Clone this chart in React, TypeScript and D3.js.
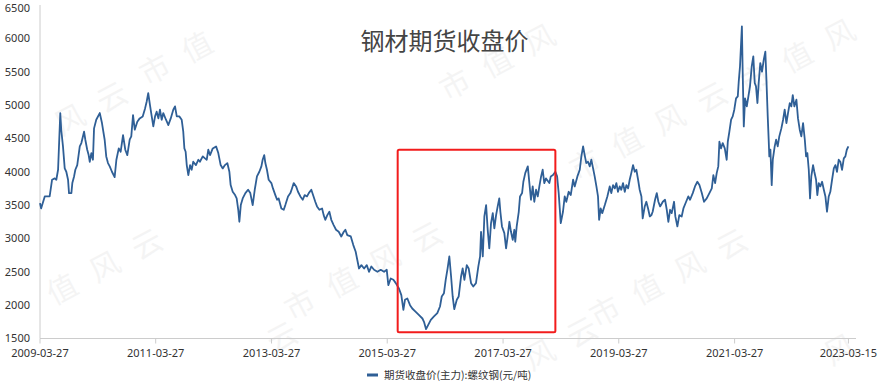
import React from "react";
import * as d3 from "d3";

const title = "钢材期货收盘价";
const seriesName = "期货收盘价(主力):螺纹钢(元/吨)";
const watermarkText = "市值风云";

const xDomain = ["2009-03-27", "2023-05-02"];
const xTickLabels = ["2009-03-27", "2011-03-27", "2013-03-27", "2015-03-27", "2017-03-27", "2019-03-27", "2021-03-27", "2023-03-15"];
const yTicks = [1500, 2000, 2500, 3000, 3500, 4000, 4500, 5000, 5500, 6000, 6500];

const highlightDates = ["2015-06-01", "2018-02-20"];
const highlightValues = [1595, 4330];

const dates = [
  "2009-03-27","2009-04-03","2009-04-26","2009-05-27","2009-06-11","2009-06-28","2009-07-08","2009-07-19","2009-08-02","2009-08-08",
  "2009-08-19","2009-08-30","2009-09-09","2009-09-20","2009-09-26","2009-10-11","2009-10-17","2009-10-28","2009-11-05","2009-11-17",
  "2009-12-03","2009-12-13","2009-12-30","2010-01-07","2010-01-19","2010-01-28","2010-02-04","2010-02-14","2010-02-24","2010-03-03",
  "2010-03-17","2010-04-08","2010-04-22","2010-05-09","2010-05-19","2010-05-30","2010-06-10","2010-06-24","2010-07-11","2010-07-22",
  "2010-08-06","2010-08-18","2010-09-02","2010-09-16","2010-09-29","2010-10-14","2010-10-24","2010-11-04","2010-11-15","2010-12-01",
  "2010-12-16","2011-01-04","2011-01-19","2011-01-29","2011-02-08","2011-02-19","2011-03-02","2011-03-12","2011-03-23","2011-04-02",
  "2011-04-13","2011-04-23","2011-05-04","2011-05-14","2011-05-31","2011-06-15","2011-06-30","2011-07-16","2011-07-27","2011-08-07",
  "2011-08-23","2011-09-07","2011-09-17","2011-09-24","2011-10-02","2011-10-09","2011-10-19","2011-10-30","2011-11-09","2011-11-19",
  "2011-12-06","2011-12-21","2011-12-31","2012-01-18","2012-02-01","2012-02-12","2012-02-22","2012-03-04","2012-03-21","2012-04-11",
  "2012-04-25","2012-05-10","2012-05-23","2012-06-06","2012-06-21","2012-07-04","2012-07-12","2012-07-25","2012-08-09","2012-08-19",
  "2012-08-29","2012-09-05","2012-09-14","2012-09-26","2012-10-13","2012-10-30","2012-11-13","2012-11-28","2012-12-11","2012-12-25",
  "2013-01-09","2013-01-22","2013-01-30","2013-02-09","2013-02-16","2013-02-26","2013-03-09","2013-03-26","2013-04-05","2013-04-20",
  "2013-05-01","2013-05-11","2013-05-28","2013-06-12","2013-06-22","2013-07-09","2013-07-24","2013-08-03","2013-08-14","2013-08-29",
  "2013-09-10","2013-09-25","2013-10-10","2013-10-22","2013-11-06","2013-11-17","2013-12-03","2013-12-14","2013-12-28","2014-01-08",
  "2014-01-23","2014-02-09","2014-02-19","2014-03-01","2014-03-14","2014-03-27","2014-04-08","2014-04-23","2014-05-08","2014-05-25",
  "2014-06-10","2014-06-26","2014-07-06","2014-07-18","2014-08-09","2014-08-25","2014-09-09","2014-09-19","2014-09-30","2014-10-15",
  "2014-11-01","2014-11-18","2014-12-02","2014-12-17","2015-01-03","2015-01-24","2015-02-14","2015-03-07","2015-03-24","2015-04-03",
  "2015-04-18","2015-05-05","2015-05-20","2015-06-09","2015-06-24","2015-07-07","2015-07-17","2015-08-01","2015-08-18","2015-09-01",
  "2015-09-23","2015-10-14","2015-11-04","2015-11-14","2015-11-27","2015-12-10","2015-12-27","2016-01-16","2016-02-06","2016-02-23",
  "2016-03-05","2016-03-19","2016-03-30","2016-04-11","2016-04-22","2016-05-03","2016-05-13","2016-05-23","2016-06-08","2016-06-20",
  "2016-07-05","2016-07-15","2016-07-26","2016-08-10","2016-08-22","2016-09-06","2016-09-20","2016-10-07","2016-10-22","2016-11-02",
  "2016-11-08","2016-11-19","2016-11-29","2016-12-10","2016-12-20","2016-12-30","2017-01-10","2017-01-21","2017-01-31","2017-02-11",
  "2017-02-21","2017-03-03","2017-03-10","2017-03-20","2017-04-04","2017-04-15","2017-04-25","2017-05-06","2017-05-16","2017-05-27",
  "2017-06-06","2017-06-12","2017-06-21","2017-07-04","2017-07-12","2017-07-25","2017-08-02","2017-08-14","2017-08-30","2017-09-09",
  "2017-09-19","2017-09-30","2017-10-10","2017-10-21","2017-11-01","2017-11-11","2017-11-22","2017-12-02","2017-12-12","2017-12-23",
  "2018-01-13","2018-01-22","2018-02-05","2018-02-20","2018-03-03","2018-03-13","2018-03-26","2018-04-09","2018-04-20","2018-04-30",
  "2018-05-15","2018-05-28","2018-06-12","2018-06-22","2018-07-09","2018-07-24","2018-08-03","2018-08-14","2018-08-24","2018-09-03",
  "2018-09-14","2018-09-25","2018-10-05","2018-10-16","2018-10-26","2018-11-06","2018-11-16","2018-11-23","2018-12-03","2018-12-13",
  "2018-12-29","2019-01-14","2019-01-29","2019-02-08","2019-02-19","2019-03-02","2019-03-12","2019-03-22","2019-04-02","2019-04-12",
  "2019-04-23","2019-05-04","2019-05-14","2019-05-25","2019-06-04","2019-06-14","2019-06-25","2019-07-06","2019-07-16","2019-07-27",
  "2019-08-06","2019-08-17","2019-08-25","2019-09-07","2019-09-17","2019-09-28","2019-10-09","2019-10-19","2019-10-27","2019-11-11",
  "2019-11-22","2019-12-02","2019-12-13","2019-12-30","2020-01-13","2020-01-24","2020-02-03","2020-02-14","2020-02-24","2020-03-10",
  "2020-03-18","2020-03-31","2020-04-12","2020-04-27","2020-05-08","2020-05-25","2020-06-08","2020-06-19","2020-07-06","2020-07-20",
  "2020-08-04","2020-08-17","2020-09-01","2020-09-15","2020-10-02","2020-10-19","2020-11-03","2020-11-13","2020-11-24","2020-12-04",
  "2020-12-14","2020-12-21","2020-12-31","2021-01-11","2021-01-24","2021-02-05","2021-02-12","2021-02-22","2021-03-05","2021-03-15",
  "2021-03-25","2021-04-05","2021-04-16","2021-04-22","2021-04-30","2021-05-12","2021-05-17","2021-05-24","2021-06-01","2021-06-12",
  "2021-06-22","2021-07-02","2021-07-13","2021-07-23","2021-08-01","2021-08-09","2021-08-18","2021-08-26","2021-09-05","2021-09-16",
  "2021-09-27","2021-10-07","2021-10-13","2021-10-22","2021-10-28","2021-11-01","2021-11-08","2021-11-16","2021-11-23","2021-12-05",
  "2021-12-14","2021-12-24","2022-01-03","2022-01-16","2022-01-27","2022-02-06","2022-02-17","2022-02-27","2022-03-10","2022-03-20",
  "2022-03-29","2022-04-08","2022-04-21","2022-05-01","2022-05-12","2022-05-22","2022-06-02","2022-06-13","2022-06-21","2022-06-29",
  "2022-07-08","2022-07-16","2022-07-24","2022-08-04","2022-08-12","2022-08-23","2022-08-31","2022-09-09","2022-09-19","2022-09-30",
  "2022-10-11","2022-10-21","2022-10-31","2022-11-11","2022-11-21","2022-12-02","2022-12-13","2022-12-23","2023-01-02","2023-01-13",
  "2023-01-23","2023-02-03","2023-02-14","2023-02-24","2023-03-05","2023-03-15"
];

const prices = [
  3530,3450,3630,3630,3880,3900,3880,4030,4880,4630,
  4380,4050,4000,3880,3680,3680,3830,3930,4030,4100,
  4380,4430,4600,4480,4330,4250,4150,4280,4180,4650,
  4780,4880,4730,4480,4230,4130,4080,4000,3920,4180,
  4350,4300,4550,4330,4250,4480,4530,4850,4630,4750,
  4800,4830,4950,5050,5180,5000,4830,4680,4830,4900,
  4800,4930,4780,4880,4780,4700,4800,4930,4980,4830,
  4830,4780,4600,4350,4300,4100,3950,4100,4030,4150,
  4100,4180,4150,4230,4200,4180,4330,4250,4350,4380,
  4280,4100,4050,4100,4130,4000,3800,3700,3650,3600,
  3430,3250,3500,3600,3680,3730,3680,3500,3730,3930,
  4000,4080,4180,4250,4130,4030,3880,3830,3750,3650,
  3580,3600,3450,3430,3500,3630,3680,3750,3830,3780,
  3700,3630,3580,3650,3630,3680,3730,3650,3550,3480,
  3430,3450,3350,3280,3350,3400,3280,3200,3130,3100,
  3030,3100,3130,3050,3030,2900,2800,2680,2550,2600,
  2550,2600,2500,2580,2530,2500,2530,2500,2530,2300,
  2400,2380,2330,2250,2150,1930,2080,2100,2000,1950,
  1900,1850,1800,1750,1640,1700,1780,1830,1880,1980,
  2130,2180,2380,2550,2730,2430,2130,1940,2080,2130,
  2430,2550,2380,2600,2550,2330,2280,2330,2580,2730,
  3100,2730,3330,3500,3130,2850,3230,3380,3150,3350,
  3480,3600,3400,3180,3080,2850,3030,3250,3100,2980,
  3130,2950,3180,3400,3630,3680,3850,3980,4080,3830,
  3580,3780,3550,3730,3630,3780,3930,4030,3830,3900,
  3830,3930,3950,4000,3930,3680,3230,3400,3630,3550,
  3700,3650,3880,3780,3930,4030,4230,4380,4250,4130,
  4150,4080,4180,4050,3930,3780,3630,3280,3450,3380,
  3500,3630,3780,3680,3800,3750,3830,3700,3780,3730,
  3830,3700,3800,3750,3880,3980,4100,4000,4030,3880,
  3730,3630,3300,3480,3550,3450,3330,3350,3400,3580,
  3680,3550,3480,3550,3580,3430,3250,3430,3380,3550,
  3330,3180,3350,3330,3450,3550,3630,3580,3680,3780,
  3850,3800,3680,3550,3600,3680,3750,3950,3830,3980,
  4080,4450,4350,4430,4350,4180,4450,4600,4780,4830,
  4930,5100,5130,5350,5580,6180,5500,4680,5100,4980,
  5130,5280,5580,5730,5330,5280,5030,5330,5630,5500,
  5680,5800,5430,4830,4480,4230,4330,3800,4180,4380,
  4480,4380,4530,4650,4780,4930,4730,4880,5030,4980,
  5150,4980,5080,4800,4630,4530,4730,4480,4230,4280,
  4030,3600,3930,4100,4000,3880,3650,3830,3780,3850,
  3730,3630,3400,3630,3700,3880,4050,4100,4000,4180,
  4150,4030,4200,4230,4330,4380
];

const watermarkSpots = [
  [140, 80], [440, 95], [740, 90],
  [-30, 175], [570, 175], [850, 185],
  [5, 322], [285, 315], [590, 322],
  [140, 415], [440, 410], [740, 405],
];

export default function App() {
  const W = 885;
  const H = 384;
  const parse = d3.utcParse("%Y-%m-%d");
  const x = d3.scaleUtc().domain(xDomain.map((d) => parse(d) as Date)).range([40, 856]);
  const y = d3.scaleLinear().domain([1500, 6500]).range([338.5, 5]);
  const pts = dates.map((d, i) => [x(parse(d) as Date), y(prices[i])] as [number, number]);
  const path = d3.line()(pts) || "";

  const rx0 = x(parse(highlightDates[0]) as Date);
  const rx1 = x(parse(highlightDates[1]) as Date);
  const ry0 = y(highlightValues[1]);
  const ry1 = y(highlightValues[0]);

  const lineColor = "#2f5f96";
  const axisColor = "#cccccc";
  const labelFont = "'Noto Sans', 'DejaVu Sans', sans-serif";
  const cjkFont = "'Noto Sans CJK SC', 'Noto Sans', sans-serif";

  const angle = (-28 * Math.PI) / 180;
  const pitch = 48;
  const wmChars: { cx: number; cy: number; ch: string; key: string }[] = [];
  watermarkSpots.forEach(([wx, wy], i) => {
    Array.from(watermarkText).forEach((ch, k) => {
      const cx = wx + k * pitch * Math.cos(angle) + 15;
      const cy = wy + k * pitch * Math.sin(angle) - 10;
      if (cx > 28 && cx < W - 28 && cy > 28 && cy < H - 28) {
        wmChars.push({ cx, cy, ch, key: `wm${i}-${k}` });
      }
    });
  });

  return (
    <svg width={W} height={H} style={{ position: "fixed", left: 0, top: 0, background: "#fff" }}>
      <rect x={0} y={0} width={W} height={H} fill="#fff" />
      {wmChars.map((c) => (
        <text
          key={c.key}
          transform={`translate(${c.cx},${c.cy}) rotate(-28)`}
          textAnchor="middle"
          dy="0.35em"
          fontFamily={cjkFont}
          fontSize={30}
          fill="#000"
          opacity={0.04}
        >
          {c.ch}
        </text>
      ))}
      <text x={444.5} y={50} textAnchor="middle" fontFamily={cjkFont} fontSize={24} fill="#444">
        {title}
      </text>
      <line x1={40} y1={y(6500)} x2={40} y2={y(1500)} stroke={axisColor} strokeWidth={1} />
      <line x1={40} y1={y(1500)} x2={856} y2={y(1500)} stroke={axisColor} strokeWidth={1.2} />
      {yTicks.map((t) => (
        <text key={"y" + t} x={30} y={Math.max(y(t), 8.5)} dy="0.35em" textAnchor="end" fontFamily={labelFont} fontSize={11} fill="#333">
          {t}
        </text>
      ))}
      {xTickLabels.map((t) => {
        const tx = x(parse(t) as Date);
        return (
          <g key={"x" + t}>
            <line x1={tx} y1={y(1500)} x2={tx} y2={y(1500) + 5} stroke={axisColor} strokeWidth={1} />
            <text x={tx} y={357} textAnchor="middle" fontFamily={labelFont} fontSize={11} fill="#333">
              {t}
            </text>
          </g>
        );
      })}
      <path d={path} fill="none" stroke={lineColor} strokeWidth={1.8} strokeLinejoin="round" />
      <rect
        x={rx0}
        y={ry0}
        width={rx1 - rx0}
        height={ry1 - ry0}
        rx={1.5}
        fill="none"
        stroke="#f21c1c"
        strokeWidth={2}
      />
      <line x1={367} y1={375} x2={378} y2={375} stroke={lineColor} strokeWidth={3} />
      <text x={384} y={378.5} fontFamily={cjkFont} fontSize={10.5} fill="#333">
        {seriesName}
      </text>
    </svg>
  );
}
